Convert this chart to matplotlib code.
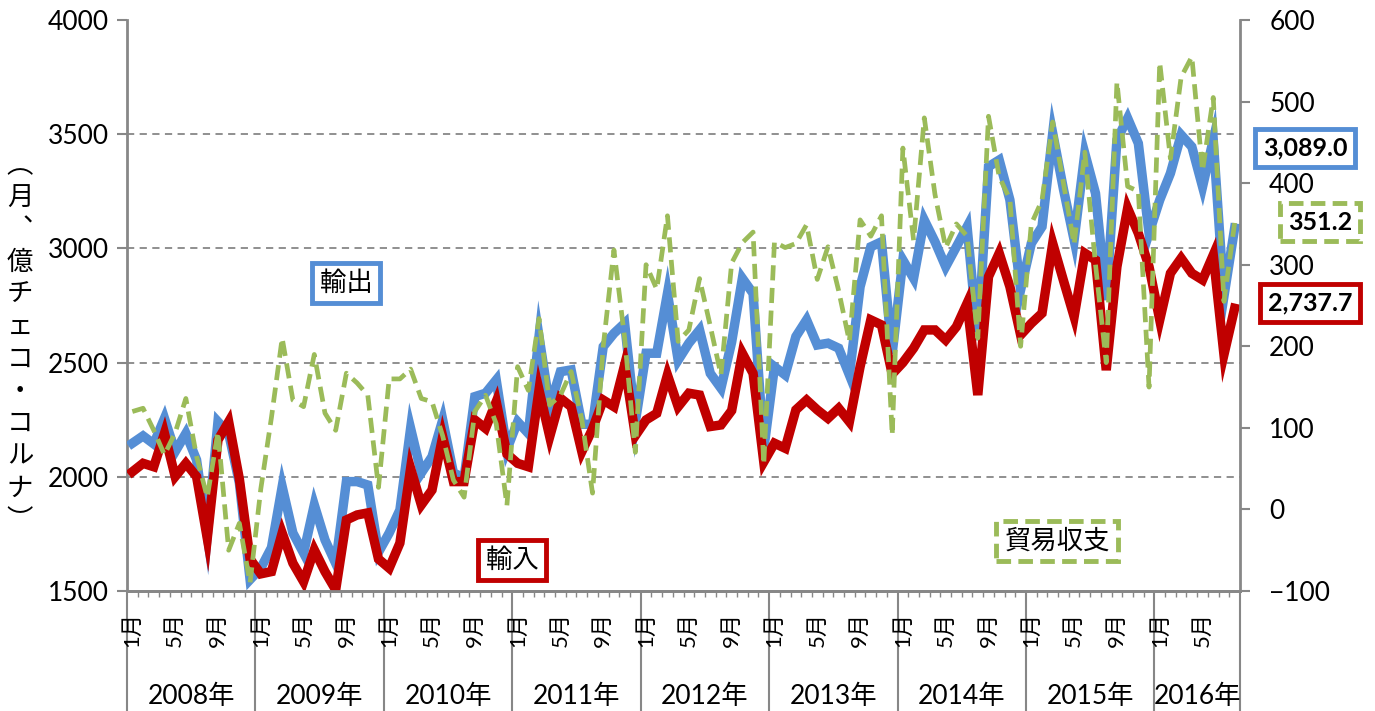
import numpy as np
import matplotlib.pyplot as plt

plt.rcParams['font.family'] = ['Lato', 'Noto Sans CJK JP', 'DejaVu Sans']

# monthly data, Jan 2008 - Aug 2016 (100 million CZK)
years = ['2008年', '2009年', '2010年', '2011年', '2012年', '2013年', '2014年', '2015年', '2016年']
months_in_year = [12, 12, 12, 12, 12, 12, 12, 12, 8]
month_labels = {0: '1月', 4: '5月', 8: '9月'}

exports = [2147, 2179, 2144, 2256, 2110, 2190, 2074, 1745, 2241, 2190, 1973, 1550,
           1600, 1690, 1957, 1754, 1666, 1877, 1724, 1621, 1979, 1979, 1964, 1670,
           1754, 1855, 2212, 2017, 2088, 2249, 2017, 1995, 2351, 2366, 2424, 2120,
           2241, 2190, 2614, 2307, 2460, 2468, 2230, 2230, 2570, 2628, 2672, 2240,
           2541, 2541, 2803, 2511, 2585, 2643, 2453, 2388, 2590, 2869, 2803, 2120,
           2482, 2446, 2614, 2687, 2577, 2585, 2563, 2446, 2832, 3007, 3029, 2540,
           2949, 2869, 3124, 3029, 2920, 3007, 3095, 2599, 3358, 3387, 3212, 2818,
           3022, 3095, 3504, 3260, 3037, 3416, 3241, 2774, 3475, 3570, 3460, 3066,
           3212, 3329, 3497, 3445, 3270, 3475, 2790, 3089.0]
imports = [2022, 2059, 2044, 2190, 2001, 2059, 2001, 1731, 2161, 2241, 1990, 1640,
           1575, 1585, 1754, 1622, 1541, 1680, 1585, 1505, 1811, 1833, 1842, 1640,
           1600, 1710, 2037, 1877, 1942, 2176, 1979, 1979, 2249, 2212, 2329, 2100,
           2059, 2044, 2380, 2176, 2344, 2307, 2110, 2210, 2336, 2307, 2490, 2180,
           2249, 2278, 2446, 2307, 2366, 2358, 2220, 2227, 2290, 2541, 2453, 2065,
           2147, 2125, 2293, 2336, 2293, 2256, 2300, 2241, 2482, 2687, 2665, 2450,
           2500, 2563, 2643, 2643, 2599, 2657, 2760, 2358, 2876, 2979, 2832, 2621,
           2672, 2716, 3022, 2860, 2701, 2979, 2949, 2467, 2920, 3176, 3066, 2920,
           2687, 2891, 2957, 2891, 2862, 2971, 2535, 2737.7]
balance = [120, 124, 97, 67, 94, 136, 65, 15, 95, -50, -17, -90,
           25, 113, 210, 134, 126, 190, 118, 97, 167, 155, 140, 27,
           160, 160, 172, 136, 132, 90, 36, 15, 120, 140, 105, 5,
           175, 146, 234, 128, 140, 169, 110, 20, 200, 318, 210, 70,
           300, 270, 360, 206, 220, 283, 225, 165, 302, 327, 340, 55,
           328, 321, 326, 349, 282, 322, 268, 206, 355, 335, 360, 91,
           443, 330, 480, 386, 321, 350, 335, 210, 482, 408, 380, 200,
           350, 379, 475, 400, 325, 438, 300, 180, 524, 396, 390, 150,
           548, 430, 530, 555, 415, 505, 255, 351.2]

blue = '#558ED5'
red = '#C00000'
green = '#9BBB59'
gray = '#878787'
cjk = ['Noto Sans CJK JP', 'DejaVu Sans']

n = len(exports)
x = np.arange(n) + 0.5

fig = plt.figure(figsize=(13.75, 7.11), dpi=100)
ax = fig.add_axes([127/1375, 1-591/711, (1240-127)/1375, (591-20)/711])
ax2 = ax.twinx()

ax.plot(x, exports, color=blue, lw=6.8, solid_joinstyle='miter', zorder=3)
ax.plot(x, imports, color=red, lw=6.8, solid_joinstyle='miter', zorder=4)
ax2.plot(x, balance, color=green, lw=3.4, linestyle=(0, (3.2, 1.6)), zorder=5)

ax.set_xlim(0, n)
ax.set_ylim(1500, 4000)
ax.set_yticks(np.arange(1500, 4001, 500))
ax2.set_ylim(-100, 600)
ax2.set_yticks(np.arange(-100, 601, 100))

ax.yaxis.grid(True, linestyle=(0, (4, 3)), color=gray, lw=1.3)
ax.get_ygridlines()[-1].set_visible(False)
ax.get_ygridlines()[0].set_visible(False)
ax.set_axisbelow(True)

for a in (ax, ax2):
    a.spines['top'].set_visible(False)
    for s in a.spines.values():
        s.set_color(gray)
        s.set_linewidth(2)
ax2.spines['left'].set_visible(False)
ax.spines['right'].set_visible(False)

ax.tick_params(axis='y', direction='out', length=7, width=1.5, color=gray,
               labelsize=19, pad=6)
ax2.tick_params(axis='y', direction='out', length=7, width=1.5, color=gray,
                labelsize=19, pad=14)

# year separators as long major ticks, month minor ticks
bounds = list(np.cumsum([0] + months_in_year))
ax.set_xticks(bounds)
ax.set_xticklabels([])
ax.set_xticks(np.arange(n + 1), minor=True)
ax.tick_params(axis='x', which='major', direction='out', length=87, width=1.5, color=gray)
ax.tick_params(axis='x', which='minor', direction='out', length=4, width=1, color=gray)

trans = ax.get_xaxis_transform()
for start, cnt, yl in zip(bounds[:-1], months_in_year, years):
    for m in range(cnt):
        if m in month_labels:
            ax.annotate(month_labels[m], xy=(start + m + 0.5, 0), xycoords=trans,
                        xytext=(0, -15), textcoords='offset points', rotation=90,
                        ha='center', va='top', fontsize=16)
    ax.annotate(yl, xy=(start + cnt / 2, 0), xycoords=trans, xytext=(0, -76),
                textcoords='offset points', ha='center', va='center', fontsize=19)

# vertical unit label
ylab = ['︵', '月', '︑', '億', 'チ', 'ェ', 'コ', '・', 'コ', 'ル', 'ナ', '︶']
fig.text(20/1375, 1-343/711, '\n'.join(ylab), ha='center', va='center',
         fontsize=19, family=cjk, linespacing=1.25)

# series labels
def label(px, py, s, ec, ls='-', bold=False, size=19):
    fig.text(px/1375, 1-py/711, s, ha='center', va='center', fontsize=size,
             family=['Lato'] + cjk, fontweight='bold' if bold else 'normal',
             bbox=dict(boxstyle='square,pad=0.3', fc='white', ec=ec, lw=3.5, ls=ls))

label(346, 283, '輸出', blue)
label(512, 560, '輸入', red)
label(1057, 541, '貿易収支', green, ls=(0, (3, 1.5)))
label(1305, 148, '3,089.0', blue, bold=True, size=18)
label(1320, 222, '351.2', green, ls=(0, (3, 1.5)), bold=True, size=18)
label(1310, 303, '2,737.7', red, bold=True, size=18)

fig.savefig('out.png', dpi=100)
